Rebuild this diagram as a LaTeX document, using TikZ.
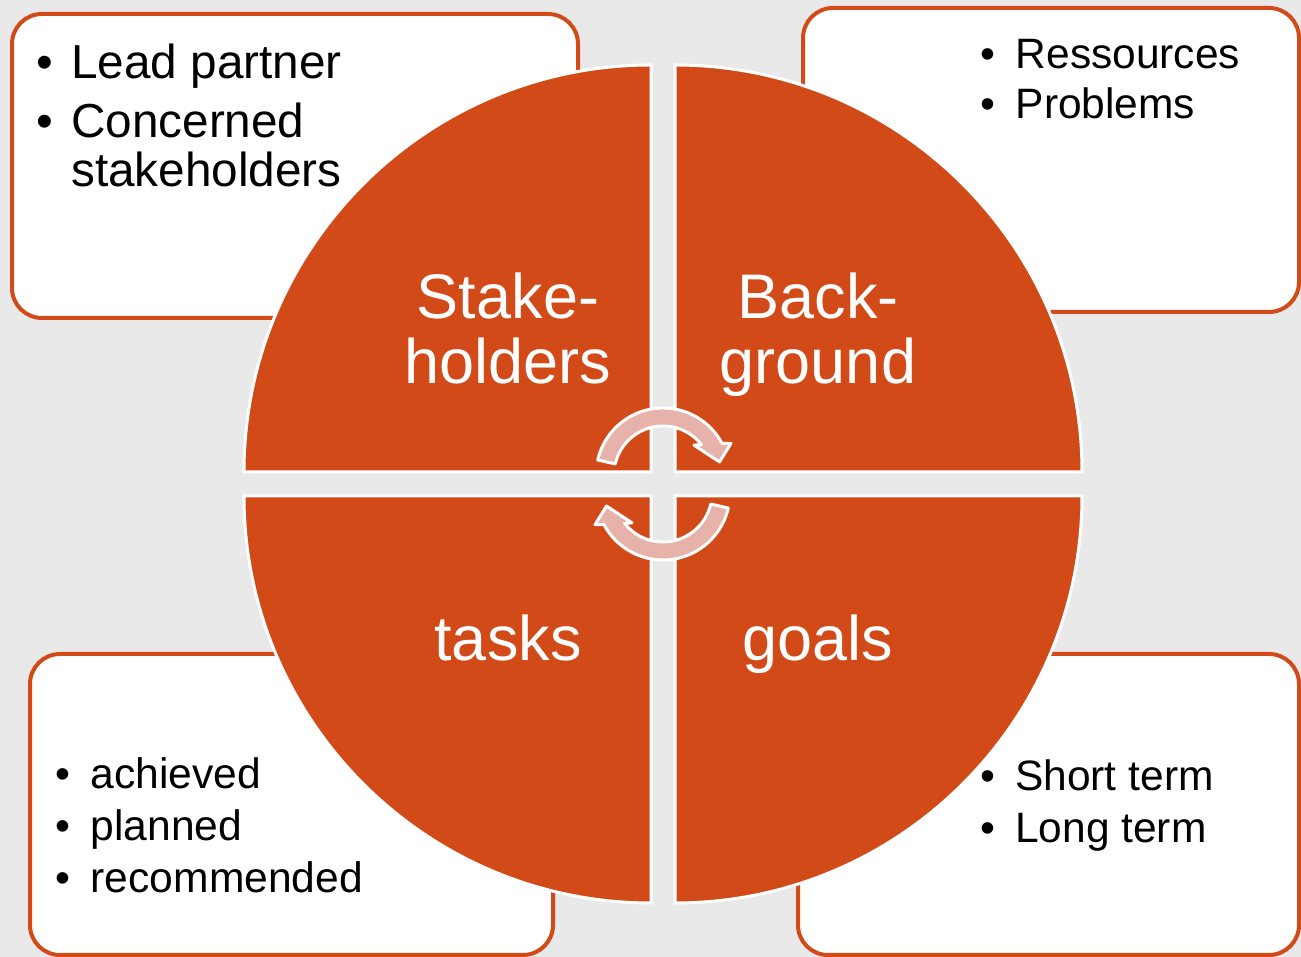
\documentclass[tikz,border=0pt]{standalone}
\usepackage{fontspec}
\setmainfont{Liberation Sans}
\definecolor{quadorange}{RGB}{209,74,24}
\definecolor{arrowpink}{RGB}{230,178,170}
\definecolor{bggray}{RGB}{233,233,233}
\newcommand\mycircarrow{%
  \filldraw[arrowshape] (167:67) arc[start angle=167,end angle=28,radius=67pt]
    -- (25:75) -- (13:58) -- (44:43) -- (38.3:49)
    arc[start angle=38.3,end angle=167,radius=49pt] -- cycle;}
\tikzset{
  panel/.style={draw=quadorange, line width=4pt, fill=white, rounded corners=30pt},
  quad/.style={fill=quadorange, draw=white, line width=3pt},
  arrowshape/.style={fill=arrowpink, draw=white, line width=3pt, line join=round},
  qlabel/.style={text=white, anchor=north, inner sep=0pt, font=\fontsize{63}{65}\selectfont},
  listtext/.style={anchor=north west, inner sep=0pt, text=black},
}
\begin{document}
\begin{tikzpicture}[x=1pt,y=1pt]
\useasboundingbox (0,0) rectangle (1301,957);
\fill[bggray] (0,0) rectangle (1301,957);
% panels
\draw[panel] (12,639) rectangle (578,943);
\draw[panel] (803,645) rectangle (1299,949);
\draw[panel] (30,2) rectangle (553,303);
\draw[panel] (798,2) rectangle (1299,303);
% quadrants
\filldraw[quad] (651,485) -- ++(-407,0) arc[start angle=180,end angle=90,radius=407pt] -- cycle;
\filldraw[quad] (675,485) -- ++(0,407) arc[start angle=90,end angle=0,radius=407pt] -- cycle;
\filldraw[quad] (651,461) -- ++(0,-407) arc[start angle=270,end angle=180,radius=407pt] -- cycle;
\filldraw[quad] (675,461) -- ++(407,0) arc[start angle=0,end angle=-90,radius=407pt] -- cycle;
% cycle arrows
\begin{scope}[shift={(663,482)}]\mycircarrow\end{scope}
\begin{scope}[shift={(663,464)},rotate=180]\mycircarrow\end{scope}
% quadrant labels
\node[qlabel] (stake) at (508,684.5) {\begin{tabular}{@{}c@{}}Stake-\\holders\end{tabular}};
\node[qlabel] (back) at (818,684.5) {\begin{tabular}{@{}c@{}}Back-\\ground\end{tabular}};
\node[qlabel] (tasks) at (508,342.5) {\begin{tabular}{@{}c@{}}tasks\end{tabular}};
\node[qlabel] (goals) at (818,342.5) {\begin{tabular}{@{}c@{}}goals\end{tabular}};
% list texts
\node[listtext, font=\fontsize{47.7}{48}\selectfont] (tltext) at (36,913.6)
  {\begin{tabular}{@{}l@{}l@{}}\makebox[35pt][l]{\textbullet} & Lead partner\\[10pt]
   \makebox[35pt][l]{\textbullet} & Concerned\\ & stakeholders\end{tabular}};
\node[listtext, font=\fontsize{42.5}{50}\selectfont] (trtext) at (980.5,924)
  {\begin{tabular}{@{}l@{}l@{}}\makebox[35pt][l]{\textbullet} & Ressources\\
   \makebox[35pt][l]{\textbullet} & Problems\end{tabular}};
\node[listtext, font=\fontsize{42.6}{52}\selectfont] (bltext) at (55.5,205.4)
  {\begin{tabular}{@{}l@{}l@{}}\makebox[35pt][l]{\textbullet} & achieved\\
   \makebox[35pt][l]{\textbullet} & planned\\
   \makebox[35pt][l]{\textbullet} & recommended\end{tabular}};
\node[listtext, font=\fontsize{42.5}{52}\selectfont] (brtext) at (980,203.4)
  {\begin{tabular}{@{}l@{}l@{}}\makebox[35pt][l]{\textbullet} & Short term\\
   \makebox[35pt][l]{\textbullet} & Long term\end{tabular}};
\end{tikzpicture}
\end{document}
